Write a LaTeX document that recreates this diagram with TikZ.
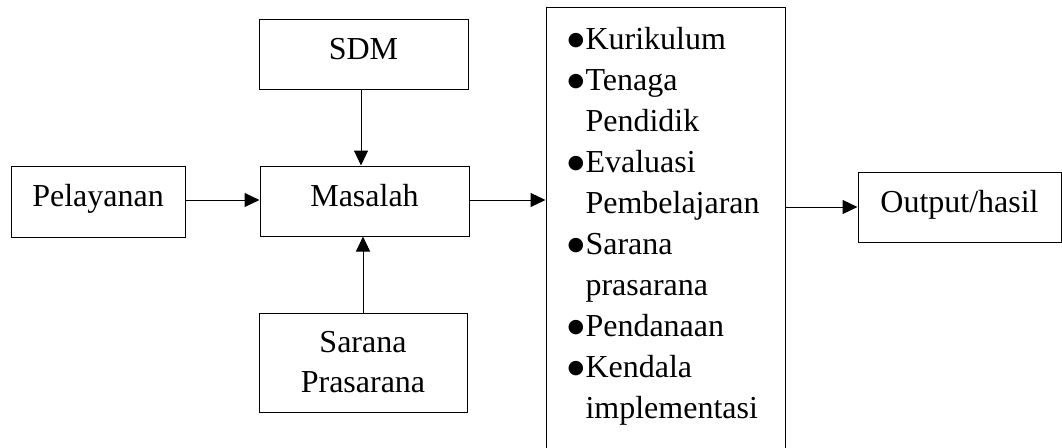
\documentclass[tikz,border=0pt]{standalone}
\usepackage{fontspec}
\setmainfont{Liberation Serif}
\newfontfamily\dotfont{DejaVu Sans}
\usepackage{tikz}
\usetikzlibrary{positioning,arrows.meta}

\newcommand\itemdot{\makebox[18pt][l]{\raisebox{4pt}{\fontsize{19}{19}\dotfont ●}}}
\newcommand\itemgap{\hspace*{18pt}}

\begin{document}
\begin{tikzpicture}[x=1pt,y=-1pt,>={Triangle[length=15pt,width=14pt]},
  line width=1pt,
  box/.style={draw,rectangle,inner sep=0pt,font=\fontsize{32}{40}\selectfont,align=center},
  oneline/.style={text height=21pt,text depth=11pt}]
\useasboundingbox (0,0) rectangle (1062,447);
\node[box,oneline,minimum width=174pt,minimum height=71pt] (pel) at (98,201.5) {Pelayanan};
\node[box,oneline,minimum width=209pt,minimum height=70pt] (sdm) at (363.5,54) {SDM};
\node[box,oneline,minimum width=209pt,minimum height=70pt] (mas) at (364.5,201) {Masalah};
\node[box,minimum width=208pt,minimum height=99pt] (sar) at (363,362.5) {Sarana\\Prasarana};
\node[box,minimum width=239pt,minimum height=444pt] (list) at (665.5,229) {};
\node[box,oneline,minimum width=203pt,minimum height=70pt] (out) at (959.5,207) {Output/hasil};
% isi daftar
\node[anchor=north west,inner sep=0pt,align=left,font=\fontsize{32}{41}\selectfont] (items) at (567,27)
  {\itemdot Kurikulum\\
   \itemdot Tenaga\\
   \itemgap Pendidik\\
   \itemdot Evaluasi\\
   \itemgap Pembelajaran\\
   \itemdot Sarana\\
   \itemgap prasarana\\
   \itemdot Pendanaan\\
   \itemdot Kendala\\
   \itemgap implementasi};
\draw[->] (pel.east |- 0,200) -- (mas.west |- 0,200);
\draw[->] (sdm.south -| 361,0) -- (mas.north -| 361,0);
\draw[->] (sar.north) -- (mas.south -| sar.north);
\draw[->] (mas.east |- 0,200) -- (list.west |- 0,200);
\draw[->] (list.east |- out.west) -- (out.west);
\end{tikzpicture}
\end{document}
